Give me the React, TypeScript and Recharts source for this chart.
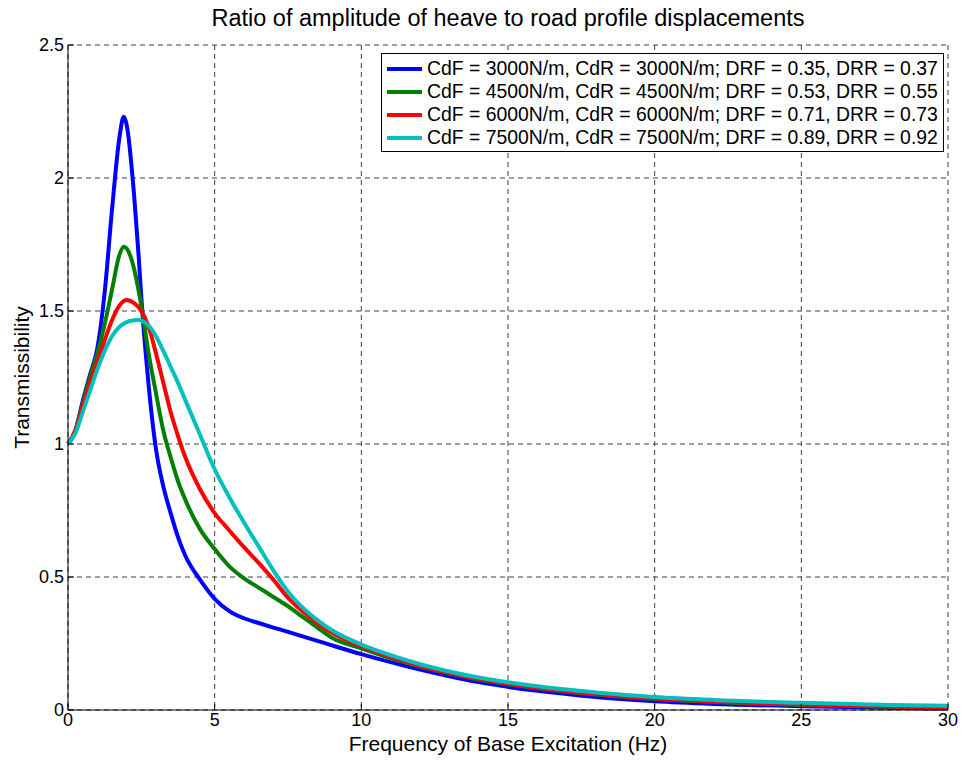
import React from 'react';
import { LineChart, Line, XAxis, YAxis, CartesianGrid, Legend } from 'recharts';

// frequency of base excitation (Hz)
const freq = [0, 0.25, 0.5, 0.75, 1, 1.25, 1.5, 1.75, 1.9, 2, 2.25, 2.4, 2.5, 2.75, 3, 3.25, 3.5, 3.75, 4, 4.5, 5, 5.5, 6, 6.5, 7, 7.5, 8, 8.5, 9, 10, 11, 12, 13, 14, 15, 16, 18, 20, 22, 25, 28, 30];

// transmissibility for each damping setting
const tr3000 = [1.0, 1.05, 1.16, 1.26, 1.36, 1.57, 1.88, 2.15, 2.23, 2.2, 1.94, 1.72, 1.55, 1.22, 0.98, 0.84, 0.74, 0.65, 0.58, 0.49, 0.418, 0.372, 0.345, 0.327, 0.31, 0.294, 0.277, 0.26, 0.243, 0.21, 0.18, 0.152, 0.127, 0.105, 0.087, 0.072, 0.049, 0.033, 0.023, 0.014, 0.008, 0.006];
const tr4500 = [1.0, 1.05, 1.15, 1.25, 1.34, 1.45, 1.58, 1.71, 1.742, 1.735, 1.66, 1.58, 1.52, 1.34, 1.19, 1.05, 0.95, 0.86, 0.79, 0.68, 0.605, 0.54, 0.495, 0.46, 0.425, 0.39, 0.35, 0.31, 0.272, 0.232, 0.195, 0.163, 0.137, 0.115, 0.097, 0.082, 0.058, 0.041, 0.03, 0.019, 0.012, 0.009];
const tr6000 = [1.0, 1.05, 1.14, 1.23, 1.31, 1.39, 1.465, 1.52, 1.538, 1.541, 1.53, 1.515, 1.5, 1.44, 1.34, 1.23, 1.12, 1.03, 0.95, 0.83, 0.74, 0.675, 0.612, 0.553, 0.49, 0.422, 0.37, 0.327, 0.29, 0.24, 0.2, 0.166, 0.139, 0.117, 0.099, 0.084, 0.06, 0.043, 0.032, 0.021, 0.013, 0.01];
const tr7500 = [1.0, 1.04, 1.12, 1.2, 1.28, 1.35, 1.405, 1.44, 1.452, 1.458, 1.465, 1.466, 1.464, 1.445, 1.405, 1.35, 1.29, 1.23, 1.165, 1.035, 0.905, 0.8, 0.705, 0.615, 0.525, 0.445, 0.385, 0.338, 0.3, 0.246, 0.206, 0.172, 0.145, 0.122, 0.104, 0.089, 0.066, 0.049, 0.038, 0.027, 0.019, 0.016];

const xTicks = [0, 5, 10, 15, 20, 25, 30];
const yTicks = [0, 0.5, 1, 1.5, 2, 2.5];

const series = [
  { key: 'c3000', values: tr3000, color: '#0000ff', name: 'CdF = 3000N/m, CdR = 3000N/m; DRF = 0.35, DRR = 0.37' },
  { key: 'c4500', values: tr4500, color: '#008000', name: 'CdF = 4500N/m, CdR = 4500N/m; DRF = 0.53, DRR = 0.55' },
  { key: 'c6000', values: tr6000, color: '#ff0000', name: 'CdF = 6000N/m, CdR = 6000N/m; DRF = 0.71, DRR = 0.73' },
  { key: 'c7500', values: tr7500, color: '#00bfbf', name: 'CdF = 7500N/m, CdR = 7500N/m; DRF = 0.89, DRR = 0.92' },
];

const data = freq.map((f, i) => {
  const row: Record<string, number> = { f };
  series.forEach(s => { row[s.key] = s.values[i]; });
  return row;
});

const font = '"Liberation Sans", Arial, Helvetica, sans-serif';
const tickStyle = { fontSize: 18, fill: '#000', fontFamily: font };

const LegendBox = () => (
  <div style={{ border: '1px solid #000', background: '#fff', padding: '3px 5px 2px 5px', fontFamily: font, fontSize: 19.4, color: '#000' }}>
    {series.map(s => (
      <div key={s.key} style={{ display: 'flex', alignItems: 'center', height: 23, whiteSpace: 'nowrap' }}>
        <span style={{ display: 'inline-block', width: 35, height: 4, background: s.color, marginRight: 5 }} />
        {s.name}
      </div>
    ))}
  </div>
);

export default function App() {
  return (
    <div style={{ position: 'absolute', left: 0, top: 0, width: 963, height: 762, background: '#fff' }}>
      <div style={{ position: 'absolute', left: 68, top: 5, width: 880, textAlign: 'center', fontFamily: font, fontSize: 23.5, color: '#000', whiteSpace: 'nowrap' }}>
        Ratio of amplitude of heave to road profile displacements
      </div>
      <LineChart width={963} height={762} data={data} margin={{ top: 45, right: 15, left: 8, bottom: 12 }}>
        <CartesianGrid stroke="#404040" strokeDasharray="5 4" />
        <XAxis
          dataKey="f"
          type="number"
          domain={[0, 30]}
          ticks={xTicks}
          height={40}
          tick={tickStyle}
          tickSize={-6}
          tickMargin={9}
          axisLine={{ stroke: '#000' }}
          tickLine={{ stroke: '#000' }}
          label={{ value: 'Frequency of Base Excitation (Hz)', position: 'bottom', offset: -14, style: { fontSize: 21, fill: '#000', fontFamily: font } }}
        />
        <XAxis
          xAxisId="top"
          dataKey="f"
          type="number"
          orientation="top"
          domain={[0, 30]}
          ticks={xTicks}
          height={0}
          tickSize={-6}
          tickFormatter={() => ''}
          axisLine={{ stroke: '#000' }}
          tickLine={{ stroke: '#000' }}
        />
        <YAxis
          type="number"
          domain={[0, 2.5]}
          ticks={yTicks}
          width={60}
          tick={tickStyle}
          tickSize={-6}
          tickMargin={10}
          axisLine={{ stroke: '#000' }}
          tickLine={{ stroke: '#000' }}
          label={{ value: 'Transmissibility', angle: -90, position: 'insideLeft', offset: 14, style: { textAnchor: 'middle', fontSize: 21, fill: '#000', fontFamily: font } }}
        />
        <YAxis
          yAxisId="right"
          type="number"
          orientation="right"
          domain={[0, 2.5]}
          ticks={yTicks}
          width={0}
          tickSize={-6}
          tickFormatter={() => ''}
          axisLine={{ stroke: '#000' }}
          tickLine={{ stroke: '#000' }}
        />
        {series.map(s => (
          <Line
            key={s.key}
            dataKey={s.key}
            name={s.name}
            type="monotone"
            stroke={s.color}
            strokeWidth={4}
            dot={false}
            activeDot={false}
            isAnimationActive={false}
          />
        ))}
        <Legend
          layout="vertical"
          align="center"
          verticalAlign="middle"
          content={() => <LegendBox />}
          wrapperStyle={{ position: 'absolute', top: 53, left: 381, width: 'auto', height: 'auto' }}
        />
      </LineChart>
    </div>
  );
}
